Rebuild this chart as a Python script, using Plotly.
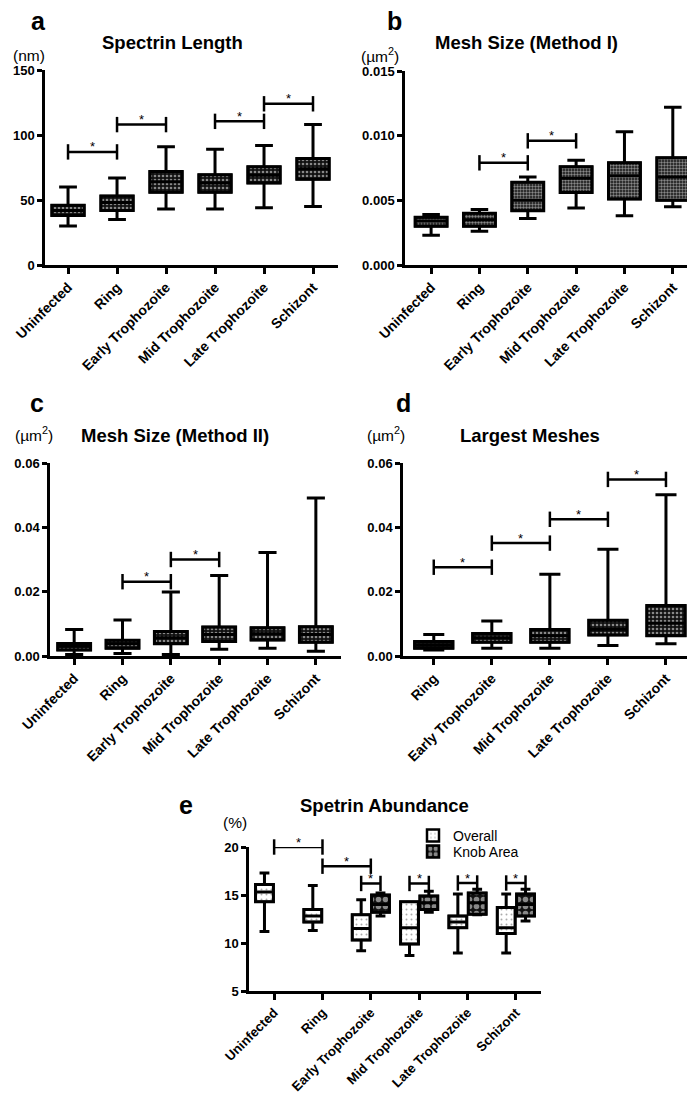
import plotly.graph_objects as go

W, H = 695, 1093
FONT = "Liberation Sans, Arial, sans-serif"

stages6 = ["Uninfected", "Ring", "Early Trophozoite", "Mid Trophozoite",
           "Late Trophozoite", "Schizont"]
stages5 = stages6[1:]

# ---- panel a : Spectrin Length (nm)
a_low = [30, 35, 43, 43, 44, 45]
a_q1 = [38, 42, 56, 56, 63, 66]
a_med = [42, 48, 64, 63, 69, 74]
a_q3 = [46, 53, 72, 69.5, 75.5, 82]
a_high = [60, 67, 91, 89, 92, 108]
a_brackets = [(0, 1, 87), (1, 2, 108), (3, 4, 110.5), (4, 5, 124)]

# ---- panel b : Mesh Size (Method I)
b_low = [0.0023, 0.0026, 0.0036, 0.0044, 0.0038, 0.0045]
b_q1 = [0.0030, 0.0030, 0.0042, 0.0056, 0.0051, 0.0050]
b_med = [0.0034, 0.0035, 0.0050, 0.0067, 0.0069, 0.0068]
b_q3 = [0.0037, 0.0040, 0.0064, 0.0076, 0.0079, 0.0083]
b_high = [0.0039, 0.0043, 0.0068, 0.0081, 0.0103, 0.0122]
b_brackets = [(1, 2, 0.0079), (2, 3, 0.0096)]

# ---- panel c : Mesh Size (Method II)
c_low = [0.0005, 0.0008, 0.0005, 0.0021, 0.0024, 0.0015]
c_q1 = [0.0019, 0.0024, 0.0038, 0.0045, 0.0050, 0.0043]
c_med = [0.0030, 0.0038, 0.0057, 0.0067, 0.0069, 0.0067]
c_q3 = [0.0039, 0.0049, 0.0076, 0.0090, 0.0088, 0.0091]
c_high = [0.0082, 0.0112, 0.0199, 0.0250, 0.0322, 0.0491]
c_brackets = [(1, 2, 0.0231), (2, 3, 0.0300)]

# ---- panel d : Largest Meshes
d_low = [0.0019, 0.0024, 0.0024, 0.0033, 0.0038]
d_q1 = [0.0024, 0.0043, 0.0043, 0.0065, 0.0063]
d_med = [0.0034, 0.0057, 0.0063, 0.0083, 0.0102]
d_q3 = [0.0045, 0.0070, 0.0082, 0.0111, 0.0157]
d_high = [0.0067, 0.0109, 0.0254, 0.0332, 0.0501]
d_brackets = [(0, 1, 0.0276), (1, 2, 0.0351), (2, 3, 0.0425), (3, 4, 0.0549)]

# ---- panel e : Spetrin Abundance (%)
e_over_low = [11.2, 11.3, 9.2, 8.7, 8.95, 8.95]
e_over_q1 = [14.3, 12.2, 10.3, 9.9, 11.6, 11.0]
e_over_med = [15.3, 12.8, 11.5, 11.6, 12.2, 11.6]
e_over_q3 = [16.1, 13.5, 12.95, 14.3, 12.8, 13.7]
e_over_high = [17.3, 16.0, 14.5, 14.3, 15.1, 15.1]
e_knob_stages = stages6[2:]
e_knob_low = [12.8, 13.2, 12.95, 12.3]
e_knob_q1 = [13.2, 13.5, 13.0, 12.8]
e_knob_med = [14.0, 14.2, 14.2, 14.0]
e_knob_q3 = [15.0, 14.9, 15.2, 15.1]
e_knob_high = [15.2, 15.4, 15.6, 15.6]
e_brackets = [(0, 1, 20.0), (1, 2, 18.0)]
e_pair_brackets = [(2, 16.2), (3, 16.2), (4, 16.25), (5, 16.25)]

fig = go.Figure()

PAT_DARK = dict(shape=".", fgcolor="white", bgcolor="#111111", size=4, solidity=0.35)
PAT_CHECK = dict(shape=".", fgcolor="white", bgcolor="#111111", size=3, solidity=0.5)
PAT_LIGHT = dict(shape=".", fgcolor="#555555", bgcolor="white", size=5, solidity=0.12)
PAT_KNOB = dict(shape=".", fgcolor="white", bgcolor="#111111", size=7, solidity=0.5)


def add_boxes(x, low, q1, med, q3, high, xa, ya, pat, width, name="",
              legend=False, legend_id="legend"):
    fig.add_trace(go.Bar(
        x=x, base=q1, y=[b - a for a, b in zip(q1, q3)], width=width,
        marker=dict(color=pat["bgcolor"], line=dict(width=2.5, color="black"),
                    pattern=pat),
        xaxis=xa, yaxis=ya, name=name, showlegend=legend, legend=legend_id,
        hoverinfo="skip"))
    fig.add_trace(go.Box(
        x=x, q1=q1, median=med, q3=q3, lowerfence=low, upperfence=high,
        width=width, whiskerwidth=0.55, fillcolor="rgba(0,0,0,0)",
        line=dict(color="black", width=3), boxpoints=False,
        xaxis=xa, yaxis=ya, showlegend=False))


def add_bracket(x0, x1, y, xa, ya, xstar):
    fig.add_trace(go.Scatter(
        x=[x0, x1], y=[y, y], mode="lines+markers",
        line=dict(color="black", width=2.5),
        marker=dict(symbol="line-ns", size=11, line=dict(color="black", width=2.5)),
        xaxis=xa, yaxis=ya, showlegend=False, cliponaxis=False, hoverinfo="skip"))
    fig.add_annotation(x=xstar, y=y, xref=xa, yref=ya, text="*", showarrow=False,
                       yanchor="middle", yshift=5,
                       font=dict(family=FONT, size=13, color="black"))


add_boxes(stages6, a_low, a_q1, a_med, a_q3, a_high, "x", "y", PAT_DARK, 0.66)
for i, j, y in a_brackets:
    add_bracket(stages6[i], stages6[j], y, "x", "y", (i + j) / 2)

add_boxes(stages6, b_low, b_q1, b_med, b_q3, b_high, "x2", "y2", PAT_CHECK, 0.66)
for i, j, y in b_brackets:
    add_bracket(stages6[i], stages6[j], y, "x2", "y2", (i + j) / 2)

add_boxes(stages6, c_low, c_q1, c_med, c_q3, c_high, "x3", "y3", PAT_DARK, 0.68)
for i, j, y in c_brackets:
    add_bracket(stages6[i], stages6[j], y, "x3", "y3", (i + j) / 2)

add_boxes(stages5, d_low, d_q1, d_med, d_q3, d_high, "x4", "y4", PAT_DARK, 0.66)
for i, j, y in d_brackets:
    add_bracket(stages5[i], stages5[j], y, "x4", "y4", (i + j) / 2)

OFF = 0.2
over_x = [i - OFF for i in range(len(stages6))]
knob_x = [stages6.index(s) + OFF for s in e_knob_stages]
add_boxes(over_x, e_over_low, e_over_q1, e_over_med, e_over_q3, e_over_high,
          "x5", "y5", PAT_LIGHT, 0.37, name="Overall", legend=True,
          legend_id="legend")
add_boxes(knob_x, e_knob_low, e_knob_q1, e_knob_med, e_knob_q3, e_knob_high,
          "x5", "y5", PAT_KNOB, 0.37, name="Knob Area", legend=True,
          legend_id="legend2")
for i, j, y in e_brackets:
    add_bracket(i, j, y, "x5", "y5", (i + j) / 2)
for i, y in e_pair_brackets:
    add_bracket(i - OFF, i + OFF, y, "x5", "y5", i)


def fx(px):
    return px / W


def fy(py):
    return 1 - py / H


def px_dom_x(a, b):
    return [fx(a), fx(b)]


def px_dom_y(top, bottom):
    return [fy(bottom), fy(top)]


TICKFONT = dict(family=FONT, size=13, color="black", weight="bold")
XFONT = dict(family=FONT, size=14, color="black", weight="bold")
XFONT_E = dict(family=FONT, size=13.2, color="black", weight="bold")
common = dict(showline=True, linecolor="black", linewidth=2.5, ticks="outside",
              tickwidth=2.5, tickcolor="black", showgrid=False, zeroline=False,
              fixedrange=True)


def xax(dom, rng, anchor, cats=None, tickvals=None, font=XFONT):
    d = dict(common, domain=dom, range=rng, anchor=anchor, ticklen=6,
             tickangle=-45, tickfont=font)
    if cats is not None:
        d.update(type="category", categoryorder="array", categoryarray=cats)
    else:
        d.update(type="linear", tickvals=tickvals, ticktext=stages6)
    return d


def yax(dom, rng, tickvals, fmt, anchor):
    return dict(common, domain=dom, range=rng, tickvals=tickvals, tickformat=fmt,
                anchor=anchor, ticklen=5, tickfont=TICKFONT)


LEG = dict(xanchor="left", yanchor="middle",
           font=dict(family=FONT, size=14, color="black"),
           bgcolor="rgba(0,0,0,0)", itemwidth=30)

fig.update_layout(
    width=W, height=H, margin=dict(l=0, r=0, t=0, b=0, autoexpand=False),
    paper_bgcolor="white", plot_bgcolor="white",
    barmode="overlay", boxmode="overlay",
    font=dict(family=FONT, color="black"),
    xaxis=xax(px_dom_x(37, 330), [-0.47, 5.51], "y", cats=stages6),
    yaxis=yax(px_dom_y(62, 257), [0, 150], [0, 50, 100, 150], "d", "x"),
    xaxis2=xax(px_dom_x(397, 688), [-0.54, 5.48], "y2", cats=stages6),
    yaxis2=yax(px_dom_y(63, 257), [0, 0.015], [0, 0.005, 0.010, 0.015], ".3f", "x2"),
    xaxis3=xax(px_dom_x(42, 333), [-0.5, 5.52], "y3", cats=stages6),
    yaxis3=yax(px_dom_y(455, 648), [0, 0.06], [0, 0.02, 0.04, 0.06], ".2f", "x3"),
    xaxis4=xax(px_dom_x(395, 687), [-0.53, 4.5], "y4", cats=stages5),
    yaxis4=yax(px_dom_y(455, 648), [0, 0.06], [0, 0.02, 0.04, 0.06], ".2f", "x4"),
    xaxis5=xax(px_dom_x(241, 533), [-0.52, 5.52], "y5", tickvals=list(range(6)),
               font=XFONT_E),
    yaxis5=yax(px_dom_y(839, 983), [5, 20], [5, 10, 15, 20], "d", "x5"),
    legend=dict(LEG, x=fx(405), y=fy(828)),
    legend2=dict(LEG, x=fx(405), y=fy(844)),
    showlegend=True,
)


def label(text, cx, cy, size, bold=False):
    fig.add_annotation(x=fx(cx), y=fy(cy), xref="paper", yref="paper",
                       text=text, showarrow=False, xanchor="center", yanchor="middle",
                       font=dict(family=FONT, size=size, color="black",
                                 weight="bold" if bold else "normal"))


label("a", 30, 13, 25, True)
label("Spectrin Length", 164, 34, 18.5, True)
label("(nm)", 21, 48, 15.5)
label("b", 386, 13, 25, True)
label("Mesh Size (Method I)", 518, 34, 18.5, True)
label("(\u00b5m<sup>2</sup>)", 372, 47, 15.5)
label("c", 29, 395, 25, True)
label("Mesh Size (Method II)", 167, 427, 18.5, True)
label("(\u00b5m<sup>2</sup>)", 26, 426, 15.5)
label("d", 395, 395, 25, True)
label("Largest Meshes", 522, 427, 18.5, True)
label("(\u00b5m<sup>2</sup>)", 378, 426, 15.5)
label("e", 178, 797, 25, True)
label("Spetrin Abundance", 376, 797, 18.5, True)
label("(%)", 227, 814, 15.5)

fig.write_html("out.html")
